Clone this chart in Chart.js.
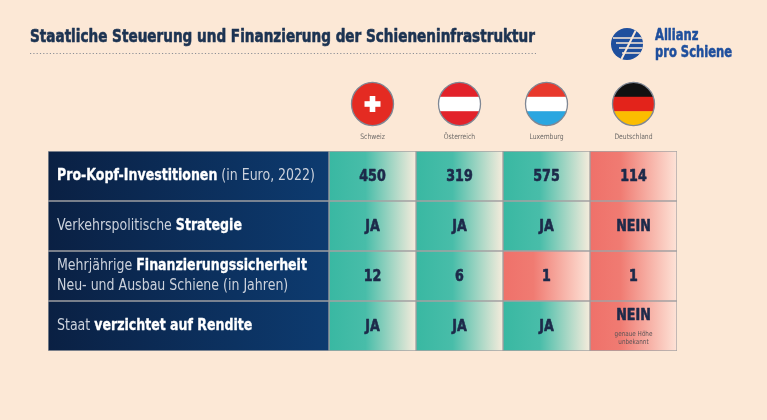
<!DOCTYPE html>
<html lang="de">
<head>
  <meta charset="UTF-8">
  <title>Staatliche Steuerung und Finanzierung der Schieneninfrastruktur</title>
  <script src="https://cdn.jsdelivr.net/npm/chart.js"></script>
  <style>
    html, body { margin: 0; padding: 0; background: #fce8d6; }
    canvas { display: block; }
  </style>
</head>
<body>
<canvas id="tabelle" width="767" height="420"></canvas>

<script>
  // Daten
  const laender = ['Schweiz', 'Österreich', 'Luxemburg', 'Deutschland'];
  const kriterien = ['Pro-Kopf-Investitionen', 'Verkehrspolitische Strategie', 'Mehrjährige Finanzierungssicherheit', 'Staat verzichtet auf Rendite'];
  // Beschriftung je Zeile: Zeilen aus [Text, fett]
  const kriterienText = [
    [[['Pro-Kopf-Investitionen', true], [' (in Euro, 2022)', false]]],
    [[['Verkehrspolitische ', false], ['Strategie', true]]],
    [[['Mehrjährige ', false], ['Finanzierungssicherheit', true]], [['Neu- und Ausbau Schiene (in Jahren)', false]]],
    [[['Staat ', false], ['verzichtet auf Rendite', true]]]
  ];
  const investitionen = [450, 319, 575, 114];
  const strategie = ['JA', 'JA', 'JA', 'NEIN'];
  const finanzierungsJahre = [12, 6, 1, 1];
  const verzichtRendite = ['JA', 'JA', 'JA', 'NEIN'];
  const fussnoten = ['', '', '', 'genaue Höhe|unbekannt'];
  // 1 = positiv (grün), 0 = negativ (rot)
  const bewertung = [
    [1, 1, 1, 0],
    [1, 1, 1, 0],
    [1, 1, 0, 0],
    [1, 1, 1, 0]
  ];
  const zellen = [investitionen, strategie, finanzierungsJahre, verzichtRendite];

  const LABEL_W = 3.23; // Breite der Beschriftungsspalte in Spalteneinheiten
  const SCHRIFT = '"Liberation Sans Narrow", "DejaVu Sans Condensed", sans-serif';

  // Text horizontal gestaucht zeichnen (Ersatz fuer eine schmale Schrift),
  // optional mit duenner Kontur fuer einen kraeftigeren Schnitt
  function schmal(c, text, x, y, sx, kontur) {
    c.save();
    c.translate(x, y);
    c.scale(sx, 1);
    c.fillText(text, 0, 0);
    if (kontur) {
      c.strokeStyle = c.fillStyle;
      c.lineWidth = kontur;
      c.lineJoin = 'round';
      c.strokeText(text, 0, 0);
    }
    c.restore();
  }

  function navyVerlauf(ctx) {
    const chart = ctx.chart;
    if (!chart.chartArea) return '#0b2a55';
    const xs = chart.scales.x;
    const g = chart.ctx.createLinearGradient(xs.getPixelForValue(0), 0, xs.getPixelForValue(LABEL_W), 0);
    g.addColorStop(0, '#0a2043');
    g.addColorStop(1, '#0d3b70');
    return g;
  }

  function zellVerlauf(ctx, spalte) {
    const chart = ctx.chart;
    const gut = bewertung[ctx.dataIndex] ? bewertung[ctx.dataIndex][spalte] : 1;
    if (!chart.chartArea) return gut ? '#3dbaa5' : '#f07870';
    const xs = chart.scales.x;
    const x0 = xs.getPixelForValue(LABEL_W + spalte);
    const x1 = xs.getPixelForValue(LABEL_W + spalte + 1);
    const g = chart.ctx.createLinearGradient(x0, 0, x1, 0);
    if (gut) {
      g.addColorStop(0, '#39b8a2');
      g.addColorStop(0.42, '#48bda9');
      g.addColorStop(1, '#f6ecdc');
    } else {
      g.addColorStop(0, '#ef716a');
      g.addColorStop(0.35, '#f07b72');
      g.addColorStop(1, '#fde3d7');
    }
    return g;
  }

  function flagge(c, name, cx, cy, r) {
    c.save();
    c.beginPath();
    c.ellipse(cx, cy, r, r * 1.03, 0, 0, Math.PI * 2);
    c.clip();
    const top = cy - r * 1.03, h = 2 * r * 1.03, left = cx - r, w = 2 * r;
    const streifen = (farben) => {
      farben.forEach((f, i) => {
        c.fillStyle = f;
        c.fillRect(left, top + i * h / 3, w, h / 3 + 0.5);
      });
    };
    if (name === 'Schweiz') {
      c.fillStyle = '#e42b22';
      c.fillRect(left, top, w, h);
      c.fillStyle = '#ffffff';
      c.fillRect(cx - 2.8, cy - 8, 5.6, 16);
      c.fillRect(cx - 8, cy - 2.8, 16, 5.6);
    } else if (name === 'Österreich') {
      streifen(['#e2222a', '#ffffff', '#e2222a']);
    } else if (name === 'Luxemburg') {
      streifen(['#e8392c', '#ffffff', '#2aa6e0']);
    } else {
      streifen(['#111111', '#e3231b', '#fbbd00']);
    }
    c.restore();
    c.beginPath();
    c.ellipse(cx, cy, r, r * 1.03, 0, 0, Math.PI * 2);
    c.strokeStyle = '#7f8794';
    c.lineWidth = 1.3;
    c.stroke();
  }

  const kopfPlugin = {
    id: 'kopf',
    beforeDraw(chart) {
      const c = chart.ctx;
      c.save();
      c.fillStyle = '#fce8d6';
      c.fillRect(0, 0, chart.width, chart.height);

      // Titel, auf die Breite der Vorlage gestaucht
      const titel = 'Staatliche Steuerung und Finanzierung der Schieneninfrastruktur';
      c.fillStyle = '#1c3352';
      c.font = 'bold 18px ' + SCHRIFT;
      c.textBaseline = 'middle';
      c.textAlign = 'left';
      schmal(c, titel, 30, 37, 505 / c.measureText(titel).width, 0.6);

      c.strokeStyle = '#8c8f96';
      c.lineWidth = 1;
      c.setLineDash([1.2, 2.1]);
      c.beginPath();
      c.moveTo(30, 53.5);
      c.lineTo(536, 53.5);
      c.stroke();
      c.setLineDash([]);

      // Logo
      const lx = 627, ly = 44, lr = 16;
      c.save();
      c.beginPath();
      c.arc(lx, ly, lr, 0, Math.PI * 2);
      c.fillStyle = '#1f4f9d';
      c.fill();
      c.clip();
      c.strokeStyle = '#fce8d6';
      c.lineWidth = 1.6;
      [-6, -1, 4, 9].forEach((dy, i) => {
        c.beginPath();
        c.moveTo(lx - 14 + i * 3, ly + dy);
        c.lineTo(lx + 16, ly + dy);
        c.stroke();
      });
      c.lineWidth = 2;
      c.beginPath();
      c.moveTo(lx - 6, ly + 16);
      c.lineTo(lx + 10, ly - 16);
      c.stroke();
      c.restore();
      c.fillStyle = '#1f4f9d';
      c.font = 'bold 15px ' + SCHRIFT;
      const sxLogo = 77 / c.measureText('pro Schiene').width;
      schmal(c, 'Allianz', 655, 36, sxLogo, 0.5);
      schmal(c, 'pro Schiene', 655, 53, sxLogo, 0.5);

      // Flaggen und Ländernamen
      const xs = chart.scales.x;
      laender.forEach((land, i) => {
        const cx = xs.getPixelForValue(LABEL_W + i + 0.5);
        flagge(c, land, cx, 104, 21);
        c.fillStyle = '#6d6a68';
        c.font = '7.5px ' + SCHRIFT;
        c.textAlign = 'center';
        schmal(c, land, cx, 137, 0.9);
      });
      c.restore();
    }
  };

  function segmenteZeichnen(c, segmente, x, y, sx) {
    let px = x;
    segmente.forEach(([text, fett]) => {
      c.font = (fett ? 'bold ' : '') + '15px ' + SCHRIFT;
      c.fillStyle = fett ? '#ffffff' : '#ccd2dc';
      schmal(c, text, px, y, sx, fett ? 0.3 : 0);
      px += c.measureText(text).width * sx;
    });
  }

  function segmentBreite(c, segmente) {
    return segmente.reduce((s, [text, fett]) => {
      c.font = (fett ? 'bold ' : '') + '15px ' + SCHRIFT;
      return s + c.measureText(text).width;
    }, 0);
  }

  const textPlugin = {
    id: 'zelltext',
    afterDatasetsDraw(chart) {
      const c = chart.ctx;
      c.save();
      c.textBaseline = 'middle';
      // Stauchung so, dass die erste Beschriftung so breit ist wie in der Vorlage
      const sx = 258 / segmentBreite(c, kriterienText[0][0]);
      // Beschriftungsspalte
      chart.getDatasetMeta(0).data.forEach((el, zeile) => {
        const p = el.getProps(['x', 'y', 'base'], true);
        const zeilen = kriterienText[zeile];
        c.textAlign = 'left';
        zeilen.forEach((segmente, k) => {
          const y = p.y + (k - (zeilen.length - 1) / 2) * 20;
          segmenteZeichnen(c, segmente, Math.min(p.x, p.base) + 9, y, sx);
        });
      });
      // Länderspalten
      laender.forEach((land, spalte) => {
        chart.getDatasetMeta(spalte + 1).data.forEach((el, zeile) => {
          const p = el.getProps(['x', 'y', 'base'], true);
          const cx = (p.x + p.base) / 2;
          const fuss = spalte === 3 ? fussnoten[zeile] : '';
          c.textAlign = 'center';
          c.fillStyle = '#1d2a4a';
          c.font = 'bold 16px ' + SCHRIFT;
          schmal(c, String(zellen[zeile][spalte]), cx, fuss ? p.y - 10 : p.y + 1, 0.88, 0.6);
          if (fuss) {
            c.font = '7px ' + SCHRIFT;
            c.fillStyle = '#5b5456';
            fuss.split('|').forEach((t, k) => schmal(c, t, cx, p.y + 8 + k * 8.5, 0.9));
          }
        });
      });
      c.restore();
    }
  };

  const datasets = [{
    label: 'Kriterium',
    data: kriterien.map(() => LABEL_W),
    backgroundColor: navyVerlauf,
    borderColor: 'rgba(120,128,140,0.7)',
    borderWidth: 1,
    borderSkipped: false
  }].concat(laender.map((land, i) => ({
    label: land,
    data: kriterien.map(() => 1),
    backgroundColor: ctx => zellVerlauf(ctx, i),
    borderColor: 'rgba(110,118,130,0.6)',
    borderWidth: 1,
    borderSkipped: false
  })));

  new Chart(document.getElementById('tabelle'), {
    type: 'bar',
    data: { labels: kriterien, datasets: datasets },
    options: {
      indexAxis: 'y',
      responsive: false,
      animation: false,
      events: [],
      barPercentage: 1,
      categoryPercentage: 1,
      layout: { padding: { left: 48, right: 90, top: 151, bottom: 69 } },
      scales: {
        x: { type: 'linear', stacked: true, min: 0, max: LABEL_W + 4, display: false },
        y: { stacked: true, display: false }
      },
      plugins: { legend: { display: false }, tooltip: { enabled: false } }
    },
    plugins: [kopfPlugin, textPlugin]
  });
</script>
</body>
</html>
